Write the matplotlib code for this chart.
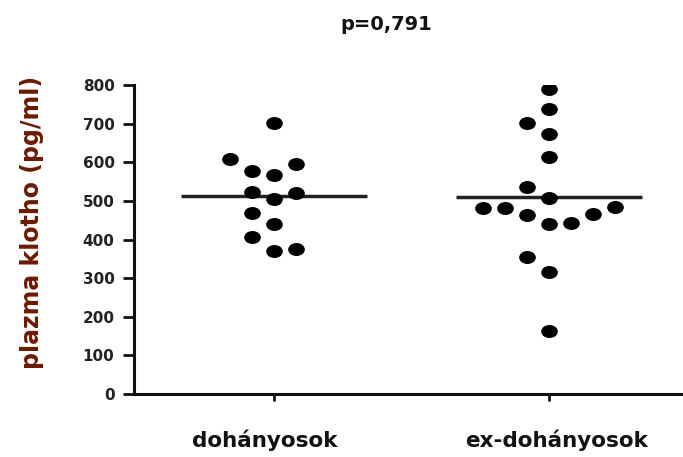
import numpy as np
import matplotlib
matplotlib.use("Agg")
import matplotlib.pyplot as plt
from matplotlib.path import Path

# ---- data ----
categories = ["dohányosok", "ex-dohányosok"]
smokers = [702, 608, 596, 578, 567, 524, 521, 504, 468, 439, 407, 371, 375]
smokers_col = [0, -2, 1, -1, 0, -1, 1, 0, -1, 0, -1, 0, 1]
ex_smokers = [790, 737, 702, 673, 613, 537, 507, 482, 482, 463, 440, 442, 466, 485, 354, 315, 164]
ex_smokers_col = [0, 0, -1, 0, 0, -1, 0, -3, -2, -1, 0, 1, 2, 3, -1, 0, 0]
y_ticks = [0, 100, 200, 300, 400, 500, 600, 700, 800]
title = "p=0,791"
ylabel = "plazma klotho (pg/ml)"

W, H = 683, 457
fig = plt.figure(figsize=(W / 100, H / 100), dpi=100)
ax = fig.add_axes([134 / W, 1 - 394 / H, 1 - 134 / W, (394 - 85) / H])

circ = Path.unit_circle()
ell = Path(circ.vertices * np.array([1.0, 0.78]), circ.codes)

col_step = 0.0805
half_line = 0.337
for i, (vals, cols) in enumerate([(smokers, smokers_col), (ex_smokers, ex_smokers_col)]):
    xc = i + 1
    xs = xc + np.array(cols) * col_step
    ax.plot(xs, vals, linestyle="none", marker=ell, markersize=12,
            color="black", markeredgewidth=0)
    m = np.mean(vals)
    ax.plot([xc - half_line, xc + half_line], [m, m], color="#222222",
            linewidth=2.5, solid_capstyle="butt", zorder=1)

ax.set_xlim(0.491, 2.487)
ax.set_ylim(0, 800)
ax.set_yticks(y_ticks)
ax.set_yticklabels([str(t) for t in y_ticks], fontsize=11, fontweight="bold",
                   color="#222222")
ax.set_xticks([1, 2])
ax.set_xticklabels([])

for s in ["top", "right"]:
    ax.spines[s].set_visible(False)
for s in ["left", "bottom"]:
    ax.spines[s].set_linewidth(2.2)
    ax.spines[s].set_color("#111111")
ax.tick_params(axis="y", length=8, width=2.0, pad=6, color="#111111")
ax.tick_params(axis="x", length=5, width=2.0, color="#111111")

label_x = [265, 557]
for lx, c in zip(label_x, categories):
    fig.text(lx / W, 1 - 440 / H, c, ha="center", va="center",
             fontsize=15.5, fontweight="bold", color="#111111")

fig.text(386 / W, 1 - 24 / H, title, ha="center", va="center",
         fontsize=14, fontweight="bold", color="#111111")
fig.text(32 / W, 1 - 222 / H, ylabel, rotation=90, ha="center", va="center",
         fontsize=17, fontweight="bold", color="#6b1a00")

fig.savefig("out.png", dpi=100)
